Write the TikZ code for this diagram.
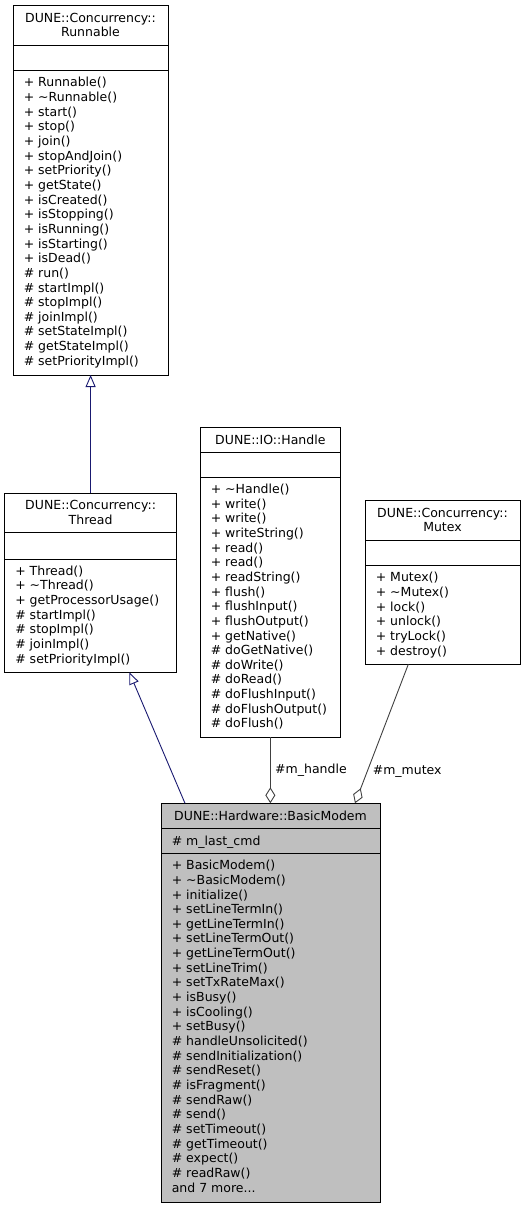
\documentclass[tikz,border=0pt]{standalone}
\usepackage{fontspec}
\setmainfont{DejaVu Sans}
\usetikzlibrary{arrows.meta,calc}
\definecolor{inhblue}{HTML}{191970}
\definecolor{usegrey}{HTML}{404040}
\definecolor{modemfill}{HTML}{BFBFBF}
\newcommand{\moredots}{...}
\begin{document}
\begin{tikzpicture}[x=1pt,y=-1pt,
  umlbox/.style={draw=black, line width=1pt, inner sep=0pt, outer sep=0pt, fill=white},
  sepline/.style={draw=black, line width=1pt},
  txt/.style={inner sep=0pt, outer sep=0pt, font=\fontsize{12.5}{14.65}\selectfont},
  inherit/.style={draw=inhblue, line width=0.9pt, -{Triangle[open, length=12pt, width=10pt]}},
  aggr/.style={draw=usegrey, line width=0.9pt, -{Diamond[open, length=16pt, width=10pt]}},
  lbl/.style={txt, anchor=base west}
]
\useasboundingbox (0,0) rectangle (524,1208);

% ---------------- Runnable
\node[umlbox, minimum width=155pt, minimum height=370pt] (runnable) at (90.5,190) {};
\draw[sepline] (runnable.west |- 0,45.5) -- (runnable.east |- 0,45.5);
\draw[sepline] (runnable.west |- 0,70.7) -- (runnable.east |- 0,70.7);
\node[txt, anchor=base] (runnable-t1) at (90.5,22.2) {DUNE::Concurrency::};
\node[txt, anchor=base] (runnable-t2) at (90.5,36.8) {Runnable};
\foreach \t [count=\i from 0] in {+ Runnable(), + \textasciitilde Runnable(), + start(), + stop(), + join(), + stopAndJoin(), + setPriority(), + getState(), + isCreated(), + isStopping(), + isRunning(), + isStarting(), + isDead(), \# run(), \# startImpl(), \# stopImpl(), \# joinImpl(), \# setStateImpl(), \# getStateImpl(), \# setPriorityImpl()}
  {\node[txt, anchor=base west] (runnable-m\i) at (23.8,{86.9+\i*14.65}) {\t};}

% ---------------- Thread
\node[umlbox, minimum width=172.2pt, minimum height=179pt] (thread) at (90.6,582.8) {};
\draw[sepline] (thread.west |- 0,532.3) -- (thread.east |- 0,532.3);
\draw[sepline] (thread.west |- 0,559) -- (thread.east |- 0,559);
\node[txt, anchor=base] (thread-t1) at (90.6,509.7) {DUNE::Concurrency::};
\node[txt, anchor=base] (thread-t2) at (90.6,524.3) {Thread};
\foreach \t [count=\i from 0] in {+ Thread(), + \textasciitilde Thread(), + getProcessorUsage(), \# startImpl(), \# stopImpl(), \# joinImpl(), \# setPriorityImpl()}
  {\node[txt, anchor=base west] (thread-m\i) at (15.3,{575.2+\i*14.65}) {\t};}

% ---------------- Handle
\node[umlbox, minimum width=140.7pt, minimum height=310pt] (handle) at (270.35,582.3) {};
\draw[sepline] (handle.west |- 0,452.7) -- (handle.east |- 0,452.7);
\draw[sepline] (handle.west |- 0,477.3) -- (handle.east |- 0,477.3);
\node[txt, anchor=base] (handle-t1) at (270.35,444.2) {DUNE::IO::Handle};
\foreach \t [count=\i from 0] in {+ \textasciitilde Handle(), + write(), + write(), + writeString(), + read(), + read(), + readString(), + flush(), + flushInput(), + flushOutput(), + getNative(), \# doGetNative(), \# doWrite(), \# doRead(), \# doFlushInput(), \# doFlushOutput(), \# doFlush()}
  {\node[txt, anchor=base west] (handle-m\i) at (210.8,{493.5+\i*14.65}) {\t};}

% ---------------- Mutex
\node[umlbox, minimum width=155pt, minimum height=164.3pt] (mutex) at (442.5,582.15) {};
\draw[sepline] (mutex.west |- 0,540.7) -- (mutex.east |- 0,540.7);
\draw[sepline] (mutex.west |- 0,565.7) -- (mutex.east |- 0,565.7);
\node[txt, anchor=base] (mutex-t1) at (442.5,517.2) {DUNE::Concurrency::};
\node[txt, anchor=base] (mutex-t2) at (442.5,531.9) {Mutex};
\foreach \t [count=\i from 0] in {+ Mutex(), + \textasciitilde Mutex(), + lock(), + unlock(), + tryLock(), + destroy()}
  {\node[txt, anchor=base west] (mutex-m\i) at (375.8,{581.9+\i*14.65}) {\t};}

% ---------------- BasicModem
\node[umlbox, fill=modemfill, minimum width=219pt, minimum height=399.2pt] (modem) at (270.5,1002.9) {};
\draw[sepline] (modem.west |- 0,828.3) -- (modem.east |- 0,828.3);
\draw[sepline] (modem.west |- 0,853.5) -- (modem.east |- 0,853.5);
\node[txt, anchor=base] (modem-t1) at (270.5,820) {DUNE::Hardware::BasicModem};
\node[txt, anchor=base west] (modem-a0) at (171.8,845.1) {\# m\_last\_cmd};
\foreach \t [count=\i from 0] in {+ BasicModem(), + \textasciitilde BasicModem(), + initialize(), + setLineTermIn(), + getLineTermIn(), + setLineTermOut(), + getLineTermOut(), + setLineTrim(), + setTxRateMax(), + isBusy(), + isCooling(), + setBusy(), \# handleUnsolicited(), \# sendInitialization(), \# sendReset(), \# isFragment(), \# sendRaw(), \# send(), \# setTimeout(), \# getTimeout(), \# expect(), \# readRaw(), and 7 more\moredots}
  {\node[txt, anchor=base west] (modem-m\i) at (171.8,{869.7+\i*14.65}) {\t};}

% ---------------- connectors
\draw[inherit] (thread.north) -- (thread.north |- runnable.south);
\draw[inherit] ($(modem.north west)+(24,0)$) -- ($(thread.south west)+(124.8,0)$);
\draw[aggr] (handle.south) -- (handle.south |- modem.north);
\draw[aggr] ($(mutex.south west)+(43.3,0)$) -- ($(modem.north west)+(194,0)$);

\node[lbl] (lbl-handle) at (275.2,773.5) {\#m\_handle};
\node[lbl] (lbl-mutex) at (372.8,774) {\#m\_mutex};
\end{tikzpicture}
\end{document}
